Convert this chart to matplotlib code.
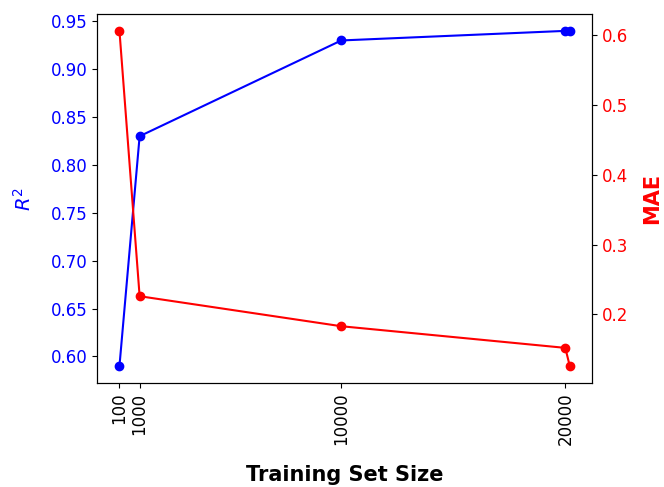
import numpy as np
import matplotlib.pyplot as plt

sizes = [100, 1000, 10000, 20000, 20200]
r2 = [0.59, 0.83, 0.93, 0.94, 0.94]
mae = [0.606, 0.226, 0.183, 0.152, 0.126]
xticks = [100, 1000, 10000, 20000]

fig = plt.figure(figsize=(6.64, 4.87), dpi=100)
ax1 = fig.add_axes([0.146, 0.214, 0.746, 0.757])

ax1.plot(sizes, r2, '-o', color='b')
ax1.set_ylabel(r'$R^2$', color='b', fontsize=14, labelpad=11)
ax1.tick_params(axis='y', labelcolor='b', labelsize=12)
ax1.set_xticks(xticks)
ax1.set_xticklabels([str(t) for t in xticks], rotation=90, fontsize=12)
ax1.set_xlabel('Training Set Size', fontsize=15, fontweight='bold', labelpad=14)

ax2 = ax1.twinx()
ax2.plot(sizes, mae, '-o', color='r')
ax2.set_ylabel('MAE', color='r', fontsize=15, fontweight='bold', labelpad=10)
ax2.tick_params(axis='y', labelcolor='r', labelsize=12)

plt.savefig('out.png', dpi=100)
